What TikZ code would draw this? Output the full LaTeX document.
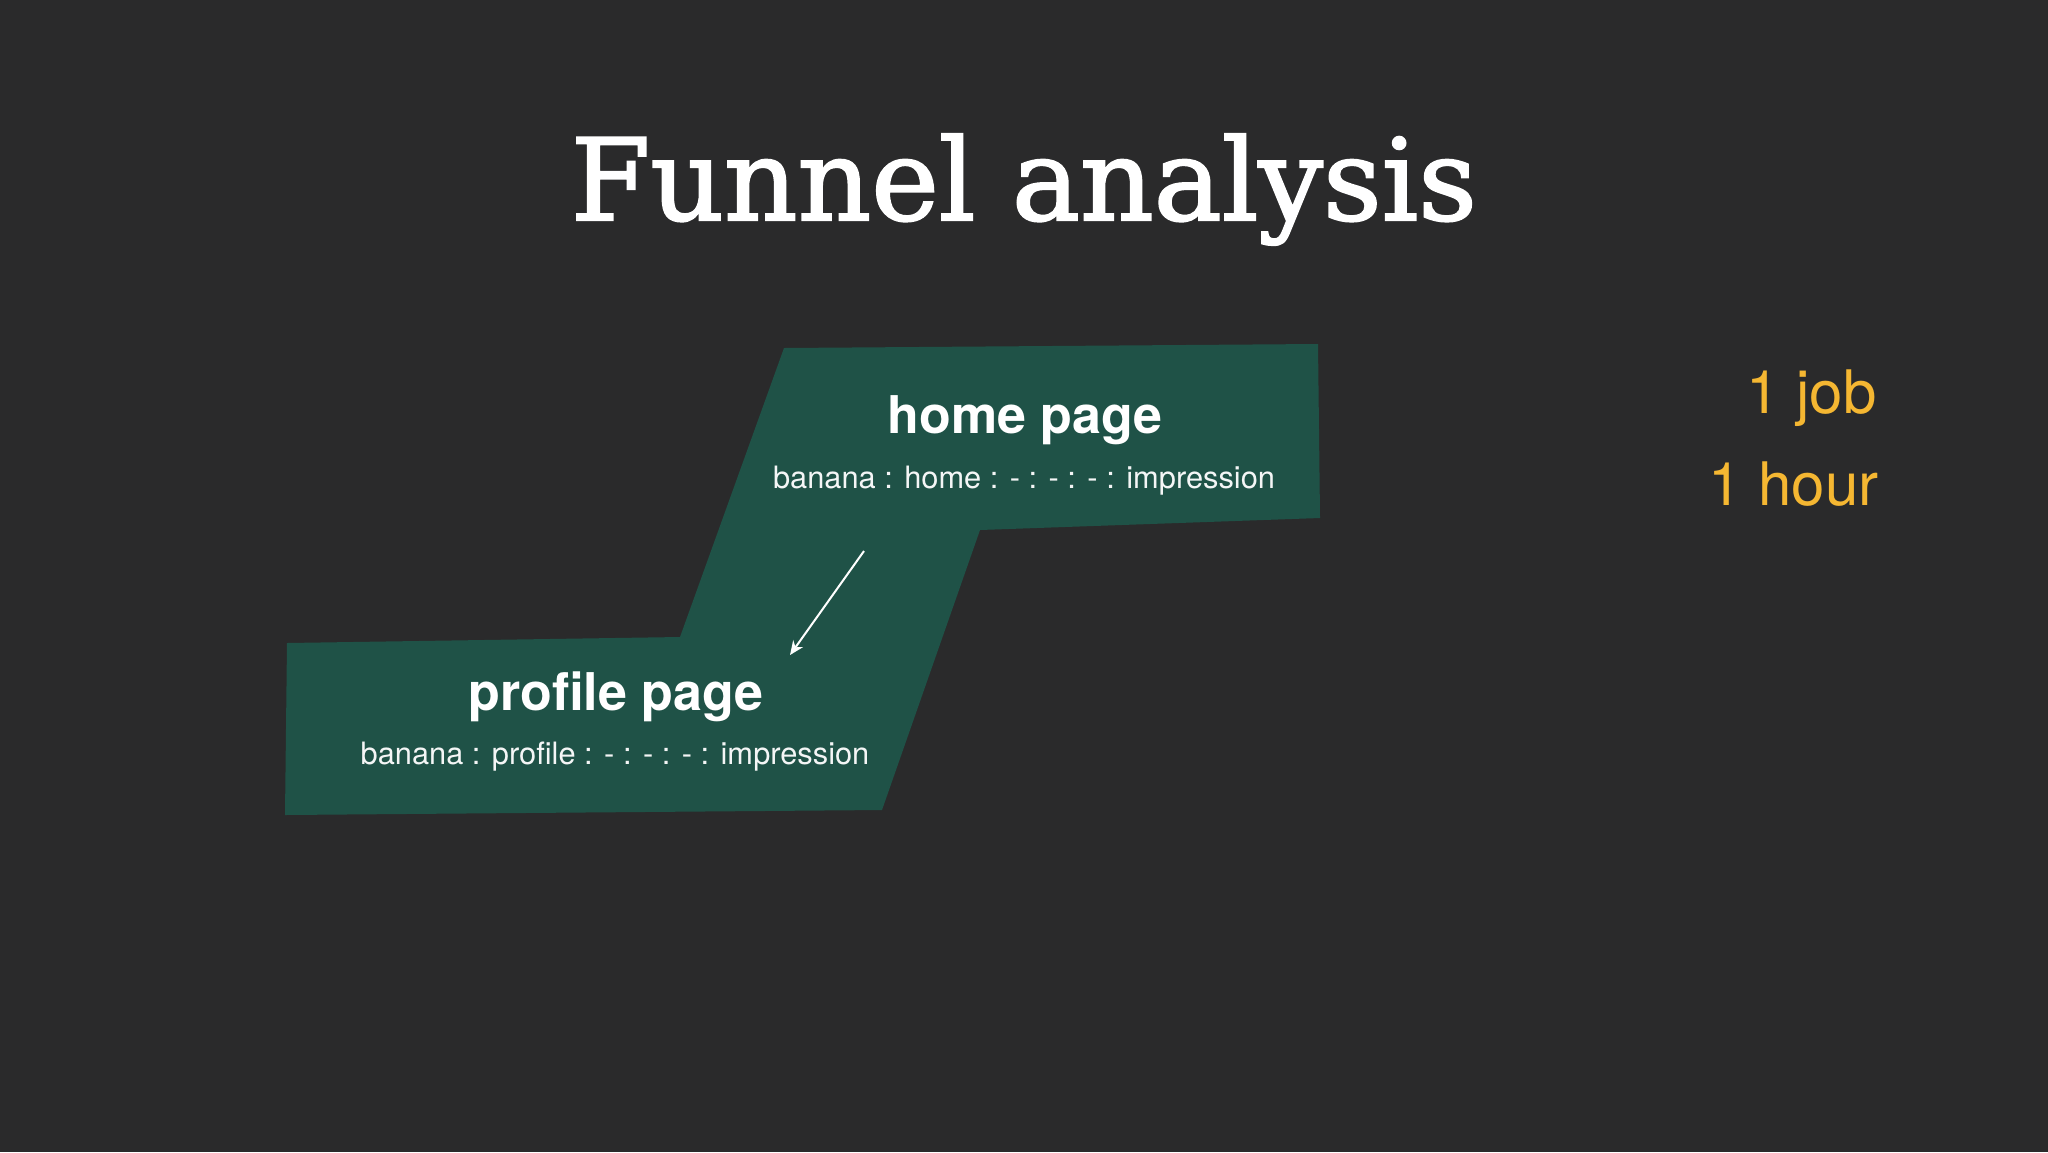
\documentclass[tikz,border=0pt]{standalone}
\usepackage{fontspec}
\usepackage{graphicx}
\setmainfont{TeX Gyre Heros}
\newfontfamily\titlefont[FakeBold=1.8]{DejaVu Serif}
\usetikzlibrary{arrows.meta}
\definecolor{bgcol}{RGB}{42,42,43}
\definecolor{funnelgreen}{RGB}{31,82,71}
\definecolor{goldtext}{RGB}{245,183,50}
\tikzset{
  headtext/.style={anchor=base, inner sep=0pt, text=white, font=\fontsize{26pt}{30pt}\selectfont\bfseries},
  subtext/.style={anchor=base, inner sep=0pt, text=white!95!funnelgreen, font=\fontsize{15.4pt}{18pt}\selectfont},
  sidetext/.style={anchor=base east, inner sep=0pt, text=goldtext, font=\fontsize{30pt}{34pt}\selectfont},
  flowarrow/.style={draw=white, line width=1pt, -{Stealth[length=7pt,width=6pt]}}
}
\begin{document}
\begin{tikzpicture}[x=0.5pt,y=-0.5pt]
\useasboundingbox (0,0) rectangle (2048,1152);
\fill[bgcol] (0,0) rectangle (2048,1152);
% funnel shape
\fill[funnelgreen] (784,348) -- (1318,344) -- (1320,518) -- (980,530) -- (882,810)
  -- (285,815) -- (287,643) -- (680,637) -- cycle;
% title
\node[anchor=base, inner sep=0pt, text=white] (title) at (1024,220)
  {\resizebox{453pt}{43pt}{\titlefont Funnel analysis}};
% home page
\node[headtext] (home) at (1025,433) {home page};
\node[subtext] (homesub) at (1024,488) {banana : home : - : - : - : impression};
% profile page
\node[headtext] (profile) at (616,710) {profile page};
\node[subtext] (profilesub) at (615,764) {banana : profile : - : - : - : impression};
% arrow
\coordinate (arrowstart) at (864,551);
\coordinate (arrowend) at (790,655);
\draw[flowarrow] (arrowstart) -- (arrowend);
% side notes
\node[sidetext] (job) at (1877,413) {1 job};
\node[sidetext] (hour) at (1879,505) {1 hour};
\end{tikzpicture}
\end{document}
